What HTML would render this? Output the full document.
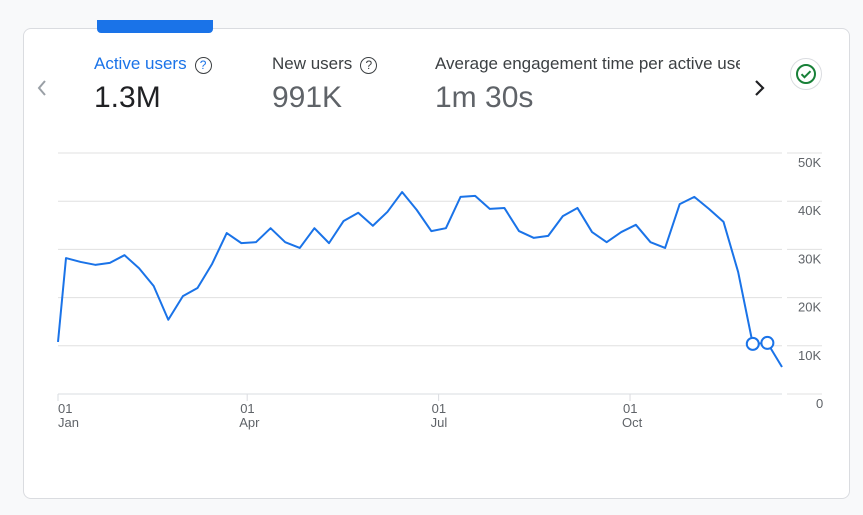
<!DOCTYPE html>
<html><head><meta charset="utf-8"><style>
body{margin:0;width:863px;height:515px;background:#f8f9fa;font-family:"Liberation Sans",sans-serif;overflow:hidden;position:relative}
.card{position:absolute;left:23px;top:28px;width:827px;height:471px;background:#fff;border:1px solid #dadce0;border-radius:8px;box-sizing:border-box}
.tab{position:absolute;left:97px;top:20px;width:116px;height:13px;background:#1a73e8;border-radius:0 0 4px 4px}
.lbl{position:absolute;top:54px;font-size:17px;color:#3c4043;white-space:nowrap}
.val{position:absolute;top:81px;font-size:30px;color:#5f6368}
.q{display:inline-block;width:15px;height:15px;border:1.3px solid #3c4043;border-radius:50%;font-size:12px;line-height:15px;text-align:center;margin-left:8px;vertical-align:0px}
</style></head><body>
<div class="card"></div>
<div class="tab"></div>
<svg style="position:absolute;left:34px;top:78px" width="16" height="20"><path d="M11 3L5 10l6 7" fill="none" stroke="#9aa0a6" stroke-width="2"/></svg>
<div class="lbl" style="left:94px;color:#1a73e8">Active users<span class="q">?</span></div>
<div class="val" style="left:94px;color:#202124">1.3M</div>
<div class="lbl" style="left:272px">New users<span class="q">?</span></div>
<div class="val" style="left:272px">991K</div>
<div class="lbl" style="left:435px;width:305px;overflow:hidden">Average engagement time per active user</div>
<div class="val" style="left:435px">1m 30s</div>
<svg style="position:absolute;left:752px;top:78px" width="16" height="20"><path d="M4 3l7 7-7 7" fill="none" stroke="#202124" stroke-width="2.2"/></svg>
<div style="position:absolute;left:790px;top:58px;width:32px;height:32px;border:1px solid #dadce0;border-radius:50%;box-sizing:border-box">
<svg width="30" height="30" viewBox="0 0 30 30"><circle cx="15" cy="15" r="9" fill="none" stroke="#188038" stroke-width="2"/><path d="M10.5 15.2l3 3 6-6" fill="none" stroke="#188038" stroke-width="2"/></svg></div>
<svg id="chart" width="863" height="515" style="position:absolute;left:0;top:0"></svg>
<script>
const values=[10.8,28.2,27.4,26.8,27.2,28.8,26.1,22.4,15.4,20.3,22.0,27.0,33.4,31.3,31.5,34.4,31.5,30.3,34.4,31.3,35.9,37.6,34.9,37.8,41.9,38.2,33.8,34.4,40.9,41.1,38.4,38.6,33.8,32.4,32.8,36.9,38.6,33.6,31.5,33.6,35.1,31.5,30.3,39.4,40.9,38.4,35.7,25.3,10.4,10.6,5.6];
const yTicks=[0,10,20,30,40,50];
const yTickLabels=["0","10K","20K","30K","40K","50K"];
const xTickIdx=[0,13.4,26.5,39.6];
const xTickDay=["01","01","01","01"];
const xTickMonth=["Jan","Apr","Jul","Oct"];
const markerIdx=[48,49];
const svg=document.getElementById('chart');const NS='http://www.w3.org/2000/svg';
function xs(i){return i===0?58:66+(i-1)*(782-66)/(values.length-2);}
function xt(t){return t===0?58:xs(t);}
function ys(v){return 394-v*4.82;}
function mk(t,a){const e=document.createElementNS(NS,t);for(const k in a)e.setAttribute(k,a[k]);svg.appendChild(e);return e;}
yTicks.forEach((t,i)=>{
const l=mk('line',{x1:58,x2:782,y1:ys(t),y2:ys(t),stroke:t===0?'#dadce0':'#e0e0e0','stroke-width':1});


const s=mk('line',{x1:787,x2:822,y1:ys(t),y2:ys(t),stroke:'#e0e0e0','stroke-width':1});


const tx=mk('text',{x:t===0?816:798,y:ys(t)+14,'font-size':13,fill:'#5f6368','font-family':'Liberation Sans'});
tx.textContent=yTickLabels[i];


});
xTickIdx.forEach((t,i)=>{
const x=xt(t);
const l=mk('line',{x1:x,x2:x,y1:394,y2:401,stroke:'#dadce0'});


const a=mk('text',{x:i===0?x:x-7,y:413,'font-size':13,fill:'#5f6368','font-family':'Liberation Sans'});a.textContent=xTickDay[i];


const b=mk('text',{x:i===0?x:x-8,y:427,'font-size':13,fill:'#5f6368','font-family':'Liberation Sans'});b.textContent=xTickMonth[i];


});
const p=mk('polyline',{points:values.map((v,i)=>xs(i)+','+ys(v)).join(' '),fill:'none',stroke:'#1a73e8','stroke-width':2,'stroke-linejoin':'round'});


markerIdx.forEach(i=>{
const c=mk('circle',{cx:xs(i),cy:ys(values[i]),r:6,fill:'#fff',stroke:'#1a73e8','stroke-width':2});


});
</script>
</body></html>
